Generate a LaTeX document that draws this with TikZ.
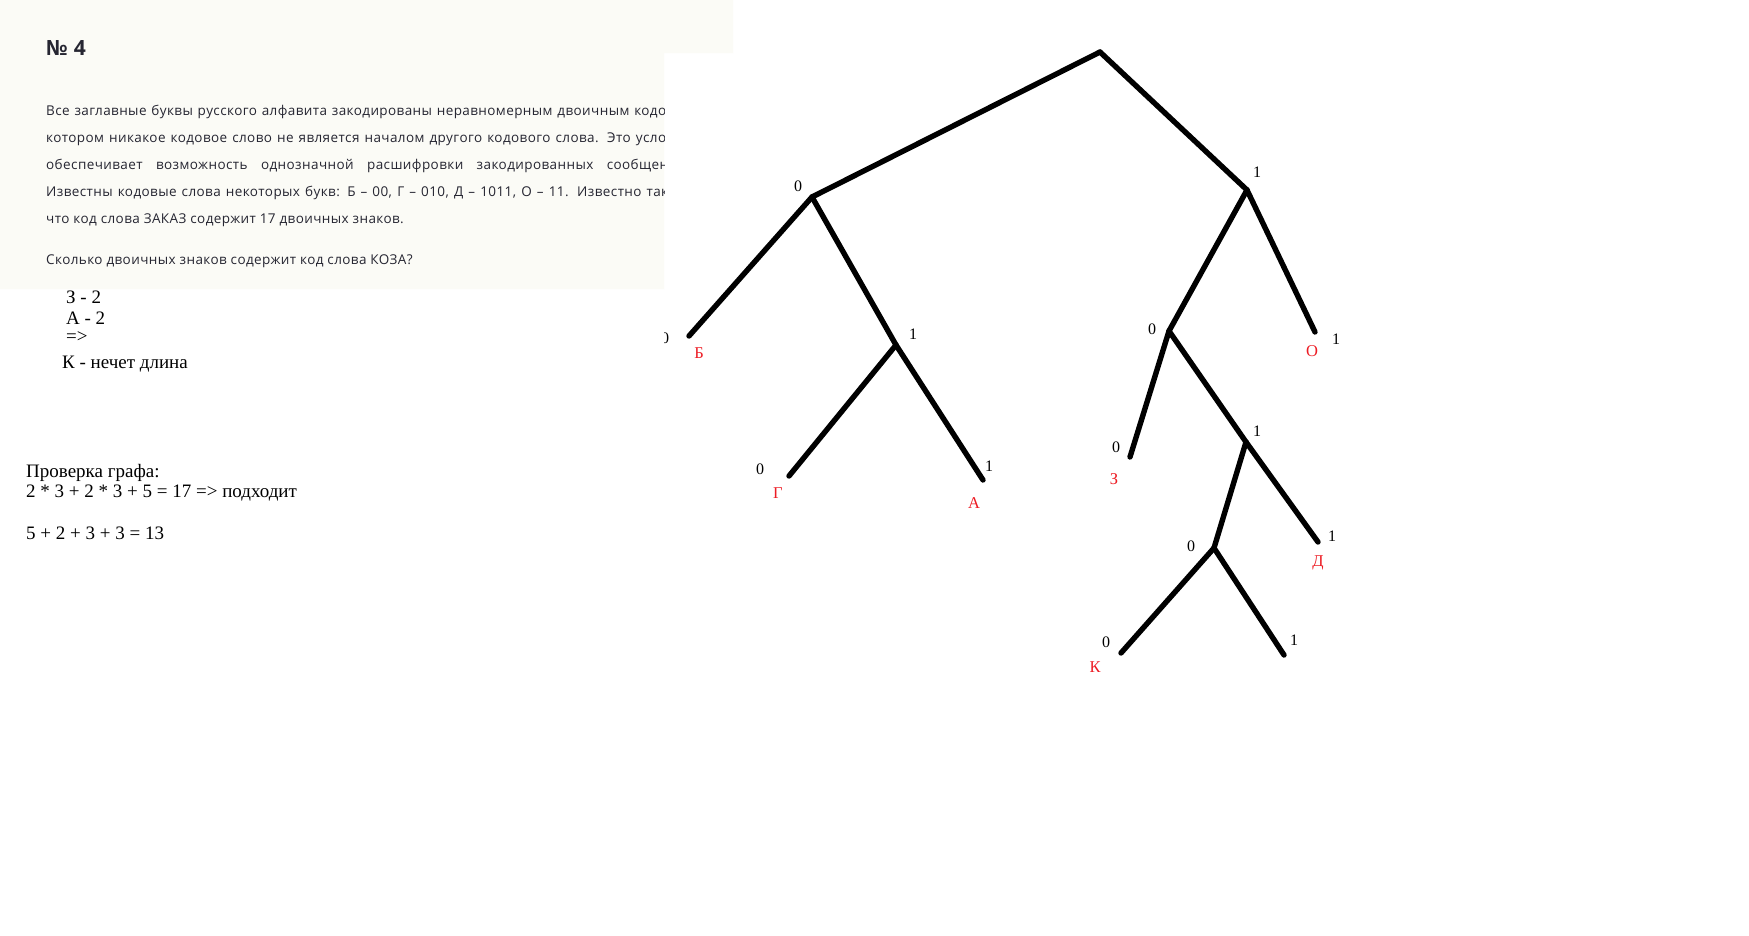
\documentclass[tikz,border=0pt]{standalone}
\usepackage{fontspec}
\setmainfont{Liberation Serif}
\newfontfamily\sitefont[LetterSpace=3]{Open Sans}
\usetikzlibrary{positioning}
\definecolor{paper}{RGB}{251,251,246}
\definecolor{ink}{RGB}{38,38,50}
\definecolor{paintred}{RGB}{237,28,36}

\begin{document}
\begin{tikzpicture}
  [ x=1pt, y=-1pt,
    branch/.style={
      draw,
      line width=5.4pt,
      line cap=round},
    bit/.style={
      font=\fontsize{16}{16}\selectfont,
      inner sep=0pt},
    letter/.style={
      font=\fontsize{16.5}{16.5}\selectfont,
      text=paintred,
      inner sep=0pt},
    task/.style={
      font=\sitefont\fontsize{13.5}{13.5}\selectfont,
      text=ink,
      anchor=base west,
      inner sep=0pt},
    note/.style={
      font=\fontsize{19}{19}\selectfont,
      anchor=base west,
      inner sep=0pt},
  ]
  \useasboundingbox (0,0) rectangle (1749,935);
  \fill[white] (0,0) rectangle (1749,935);

  % task panel
  \fill[paper] (0,0) -- (733,0) -- (733,53) -- (664,53) -- (664,289) -- (0,289) -- cycle;
  \begin{scope}
    \clip (0,0) rectangle (664,289);
    \node (title) [task, font=\sitefont\bfseries\fontsize{21}{21}\selectfont] at (46,55) {№ 4};
    \node (line1) [task] at (46,115) {\makebox[620pt][s]{Все заглавные буквы русского алфавита закодированы неравномерным двоичным кодо}};
    \node (line2) [task] at (46,142) {\makebox[620pt][s]{котором никакое кодовое слово не является началом другого кодового слова. Это усло}};
    \node (line3) [task] at (46,169) {\makebox[622pt][s]{обеспечивает возможность однозначной расшифровки закодированных сообщен}};
    \node (line4) [task] at (46,196) {\makebox[622pt][s]{Известны кодовые слова некоторых букв: Б – 00, Г – 010, Д – 1011, О – 11. Известно так}};
    \node (line5) [task] at (46,223) {что код слова ЗАКАЗ содержит 17 двоичных знаков.};
    \node (question) [task] at (46,264) {Сколько двоичных знаков содержит код слова КОЗА?};
  \end{scope}

  % notes
  \node (z2) [note] at (66,303) {З - 2};
  \node (a2) [note] at (66,324) {А - 2};
  \node (then) [note] at (66,342) {=>};
  \node (kodd) [note] at (62,368) {К - нечет длина};
  \node (check) [note] at (26,477) {Проверка графа:};
  \node (sum1) [note] at (26,497) {2 * 3 + 2 * 3 + 5 = 17 => подходит};
  \node (sum2) [note] at (26,539) {5 + 2 + 3 + 3 = 13};

  % code tree
  \begin{scope}
    \clip (664,0) rectangle (1749,935);
    \coordinate (root) at (1100,52);
    \coordinate (n0) at (812,197);
    \coordinate (n00) at (689,336);
    \coordinate (n01) at (896,345);
    \coordinate (n010) at (789,476);
    \coordinate (n011) at (983,480);
    \coordinate (n1) at (1247,190);
    \coordinate (n10) at (1169,331);
    \coordinate (n11) at (1315,332);
    \coordinate (n100) at (1130,457);
    \coordinate (n101) at (1246,442);
    \coordinate (n1010) at (1214,548);
    \coordinate (n1011) at (1318,542);
    \coordinate (n10100) at (1121,653);
    \coordinate (n10101) at (1284,655);

    \draw[branch] (root) -- (n0);
    \draw[branch] (root) -- (n1);
    \draw[branch] (n0) -- (n00);
    \draw[branch] (n0) -- (n01);
    \draw[branch] (n01) -- (n010);
    \draw[branch] (n01) -- (n011);
    \draw[branch] (n1) -- (n10);
    \draw[branch] (n1) -- (n11);
    \draw[branch] (n10) -- (n100);
    \draw[branch] (n10) -- (n101);
    \draw[branch] (n101) -- (n1010);
    \draw[branch] (n101) -- (n1011);
    \draw[branch] (n1010) -- (n10100);
    \draw[branch] (n1010) -- (n10101);

    % bits
    \node (b0) [bit] at (798,186) {0};
    \node (b00) [bit] at (665,338) {0};
    \node (b01) [bit] at (913,334) {1};
    \node (b010) [bit] at (760,469) {0};
    \node (b011) [bit] at (989,466) {1};
    \node (b1) [bit] at (1257,172) {1};
    \node (b10) [bit] at (1152,329) {0};
    \node (b11) [bit] at (1336,339) {1};
    \node (b100) [bit] at (1116,447) {0};
    \node (b101) [bit] at (1257,431) {1};
    \node (b1010) [bit] at (1191,546) {0};
    \node (b1011) [bit] at (1332,536) {1};
    \node (b10100) [bit] at (1106,642) {0};
    \node (b10101) [bit] at (1294,640) {1};

    % letters
    \node (lb) [letter] at (699,353) {Б};
    \node (lg) [letter] at (778,493) {Г};
    \node (la) [letter] at (974,503) {А};
    \node (lo) [letter] at (1312,351) {О};
    \node (lz) [letter] at (1114,479) {З};
    \node (ld) [letter] at (1318,563) {Д};
    \node (lk) [letter] at (1095,667) {К};
  \end{scope}
\end{tikzpicture}
\end{document}
